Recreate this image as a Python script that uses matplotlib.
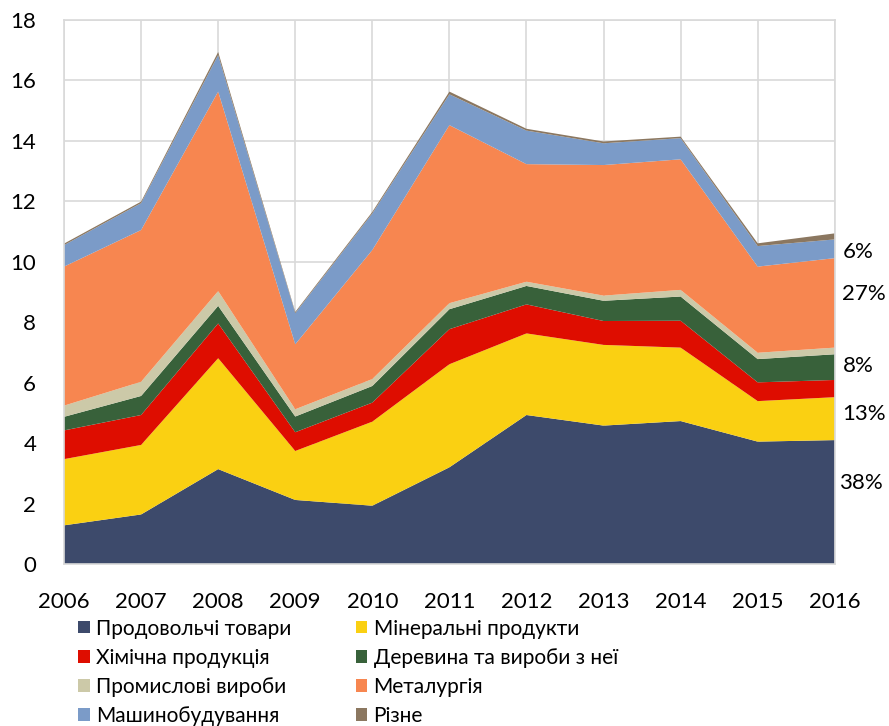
import matplotlib.pyplot as plt
import numpy as np

plt.rcParams['font.family'] = ['Lato', 'DejaVu Sans']

years = [2006, 2007, 2008, 2009, 2010, 2011, 2012, 2013, 2014, 2015, 2016]

food = [1.28, 1.64, 3.14, 2.12, 1.93, 3.20, 4.93, 4.58, 4.73, 4.05, 4.10]
mineral = [2.19, 2.30, 3.67, 1.62, 2.78, 3.41, 2.70, 2.67, 2.43, 1.34, 1.42]
chem = [0.95, 0.99, 1.15, 0.62, 0.63, 1.16, 0.96, 0.79, 0.89, 0.62, 0.57]
wood = [0.45, 0.63, 0.58, 0.52, 0.55, 0.66, 0.61, 0.67, 0.80, 0.77, 0.85]
industrial = [0.37, 0.47, 0.49, 0.24, 0.23, 0.20, 0.14, 0.17, 0.22, 0.21, 0.22]
metal = [4.60, 5.02, 6.60, 2.15, 4.27, 5.89, 3.89, 4.32, 4.32, 2.85, 2.96]
machine = [0.71, 0.89, 1.21, 1.03, 1.21, 1.02, 1.11, 0.72, 0.70, 0.68, 0.62]
misc = [0.05, 0.05, 0.10, 0.04, 0.05, 0.09, 0.06, 0.06, 0.05, 0.09, 0.20]

labels = ['Продовольчі товари', 'Мінеральні продукти', 'Хімічна продукція',
          'Деревина та вироби з неї', 'Промислові вироби', 'Металургія',
          'Машинобудування', 'Різне']
colors = ['#3D4A6B', '#FAD012', '#DE0D00', '#38613A', '#CCC9A8', '#F78650',
          '#7B9BC8', '#8B7760']

# shares in 2016 shown on the right
share_labels = ['38%', '13%', '', '8%', '', '27%', '6%', '']

series = [food, mineral, chem, wood, industrial, metal, machine, misc]

fig = plt.figure(figsize=(8.89, 7.26), dpi=100)
ax = fig.add_axes([0.072, 0.2231, 0.867, 0.7494])

polys = ax.stackplot(years, series, colors=colors, labels=labels, linewidth=0)

ax.set_xlim(2006, 2016)
ax.set_ylim(0, 18)
ax.set_xticks(years)
ax.set_yticks(range(0, 19, 2))
ax.grid(True, color='#D9D9D9', linewidth=1.2)
ax.set_axisbelow(True)
for s in ax.spines.values():
    s.set_color('#D9D9D9')
    s.set_linewidth(1.2)
ax.tick_params(length=0, labelsize=16)
ax.tick_params(axis='y', pad=20)
ax.tick_params(axis='x', pad=20)

# share labels at the right edge
cum = np.cumsum([s[-1] for s in series])
bottoms = np.concatenate([[0], cum[:-1]])
offsets = {'38%': 0.63, '13%': 0.15, '8%': 0.03, '27%': 0.3, '6%': -0.1}
for lab, b, t in zip(share_labels, bottoms, cum):
    if not lab:
        continue
    y = (b + t) / 2 + offsets[lab]
    x = 2016.06 if lab == '38%' else 2016.1
    ax.text(x, y, lab, fontsize=16, va='center', ha='left', clip_on=False)

handles = list(polys)
order = [0, 2, 4, 6, 1, 3, 5, 7]
leg = fig.legend([handles[i] for i in order], [labels[i] for i in order],
                 ncol=2, loc='upper left', bbox_to_anchor=(0.088, 0.148),
                 frameon=False, handlelength=0.55, handleheight=0.55,
                 handletextpad=0.3, columnspacing=3.1, labelspacing=0.44,
                 borderaxespad=0, borderpad=0, fontsize=15)

fig.savefig('out.png', dpi=100)
